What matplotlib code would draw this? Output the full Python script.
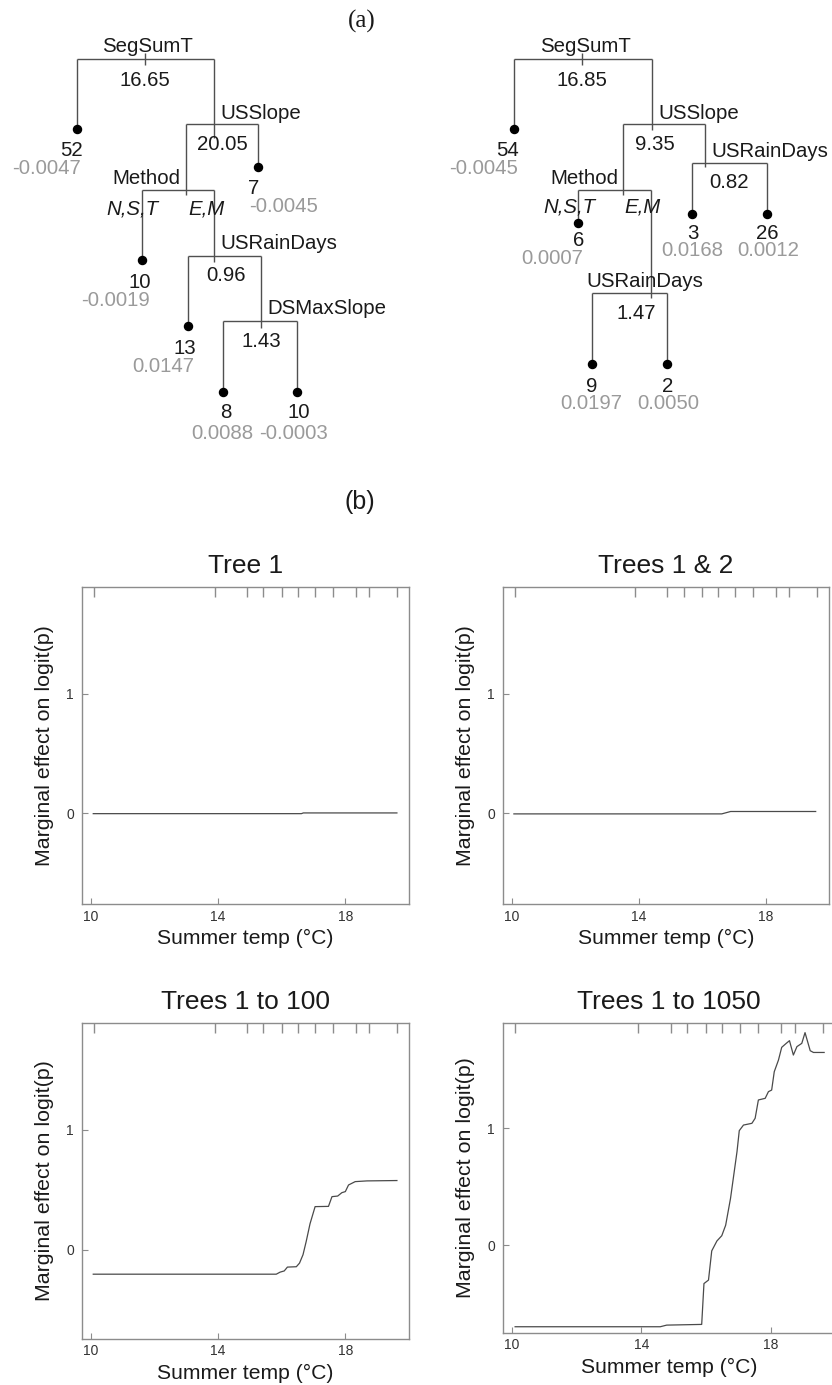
import matplotlib
matplotlib.use("Agg")
import matplotlib.pyplot as plt

# ---------------- data ----------------
# (a) regression trees
tree1_split_vars = ["SegSumT", "USSlope", "Method", "USRainDays", "DSMaxSlope"]
tree1_split_vals = ["16.65", "20.05", "", "0.96", "1.43"]
tree1_method_levels = ["N,S,T", "E,M"]
tree1_leaf_n = [52, 7, 10, 13, 8, 10]
tree1_leaf_pred = [-0.0047, -0.0045, -0.0019, 0.0147, 0.0088, -0.0003]

tree2_split_vars = ["SegSumT", "USSlope", "USRainDays", "Method", "USRainDays"]
tree2_split_vals = ["16.85", "9.35", "0.82", "", "1.47"]
tree2_method_levels = ["N,S,T", "E,M"]
tree2_leaf_n = [54, 3, 26, 6, 9, 2]
tree2_leaf_pred = [-0.0045, 0.0168, 0.0012, 0.0007, 0.0197, 0.0050]

# (b) partial dependence curves, summer temp (deg C) vs marginal effect
rug_deciles = [10.1, 13.9, 14.9, 15.42, 16.0, 16.5, 17.05, 17.6, 18.32, 18.74, 19.62]

tree1_x = [10.08, 16.62, 16.68, 19.62]
tree1_y = [-0.002, -0.002, 0.004, 0.004]

trees2_x = [10.07, 16.62, 16.9, 19.58]
trees2_y = [-0.004, -0.004, 0.016, 0.016]

trees100_x = [10.08, 15.83, 15.95, 16.08, 16.18, 16.46, 16.56, 16.67, 16.77, 16.89,
              17.05, 17.47, 17.58, 17.76, 17.89, 18.0, 18.1, 18.31, 18.68, 19.62]
trees100_y = [-0.202, -0.202, -0.185, -0.175, -0.143, -0.14, -0.11, -0.04, 0.07, 0.217,
              0.36, 0.362, 0.443, 0.448, 0.476, 0.485, 0.54, 0.568, 0.574, 0.577]

trees1050_x = [10.1, 14.58, 14.78, 15.86, 15.93, 16.07, 16.17, 16.33, 16.48, 16.6,
               16.75, 16.85, 16.95, 17.02, 17.15, 17.41, 17.51, 17.61, 17.82, 17.92,
               18.02, 18.1, 18.23, 18.33, 18.47, 18.57, 18.69, 18.8, 18.95, 19.05,
               19.21, 19.31, 19.64]
trees1050_y = [-0.70, -0.70, -0.686, -0.68, -0.33, -0.30, -0.05, 0.035, 0.08, 0.17,
               0.40, 0.60, 0.80, 0.98, 1.028, 1.043, 1.086, 1.243, 1.257, 1.314,
               1.328, 1.485, 1.585, 1.694, 1.728, 1.751, 1.628, 1.70, 1.728, 1.82,
               1.665, 1.65, 1.65]

panel_titles = ["Tree 1", "Trees 1 & 2", "Trees 1 to 100", "Trees 1 to 1050"]
panel_curves = [(tree1_x, tree1_y), (trees2_x, trees2_y),
                (trees100_x, trees100_y), (trees1050_x, trees1050_y)]
x_ticks = [10, 14, 18]
y_ticks = [0, 1]
x_label = "Summer temp (°C)"
y_label = "Marginal effect on logit(p)"

# ---------------- layout (pixels) ----------------
W, H = 832, 1385
FONT = ["Liberation Sans", "DejaVu Sans"]
plt.rcParams["font.family"] = FONT

fig = plt.figure(figsize=(W / 100, H / 100), dpi=100)
bg = fig.add_axes([0, 0, 1, 1])
bg.set_xlim(0, W)
bg.set_ylim(H, 0)
bg.axis("off")

LINE_C = "#505050"
TXT_C = "#1a1a1a"
GRAY_C = "#9a9a9a"
FS = 14.7

# node layout: (x, y, parent, ext_below) ; internal nodes first in split order, then leaves
tree1_internal = [(145.0, 59.3), (214.3, 124.0), (185.7, 190.0), (214.3, 255.7), (261.0, 320.7)]
tree1_children = [(("L", 0), ("I", 1)), (("I", 2), ("L", 1)), (("L", 2), ("I", 3)),
                  (("L", 3), ("I", 4)), (("L", 4), ("L", 5))]
tree1_leaves = [(77.3, 129.0), (257.7, 166.7), (141.7, 260.0), (187.7, 326.0),
                (223.3, 392.3), (297.0, 392.3)]
tree1_line_end = [65.0, 138.3, 195.0, 261.7, 327.7]
tree1_var_pos = [(147.7, 46.7), (261.0, 113.3), (146.7, 179.0), (279.3, 243.3), (326.7, 308.3)]
tree1_val_pos = [(145.0, 80.0), (222.7, 144.0), None, (225.7, 275.3), (261.7, 341.7)]
tree1_lvl_pos = [(132.7, 209.3), (206.7, 209.3)]
tree1_n_pos = [(71.0, 150.7), (253.3, 188.3), (139.3, 282.7), (185.0, 348.3),
               (226.0, 413.0), (298.3, 413.0)]
tree1_p_pos = [(46.7, 169.0), (283.3, 206.7), (115.0, 301.0), (163.3, 366.7),
               (222.0, 433.5), (294.0, 433.5)]

tree2_internal = [(582.3, 59.3), (651.7, 124.0), (705.3, 162.7), (623.3, 190.0), (651.0, 293.3)]
tree2_children = [(("L", 0), ("I", 1)), (("I", 3), ("I", 2)), (("L", 1), ("L", 2)),
                  (("L", 3), ("I", 4)), (("L", 4), ("L", 5))]
tree2_leaves = [(514.3, 129.0), (692.0, 214.3), (767.0, 214.3), (577.7, 222.7),
                (591.7, 364.0), (666.7, 364.0)]
tree2_line_end = [65.0, 130.0, 166.7, 195.0, 298.3]
tree2_var_pos = [(585.0, 46.7), (698.3, 113.3), (770.0, 151.7), (584.0, 179.0), (645.0, 281.7)]
tree2_val_pos = [(582.3, 80.0), (655.0, 144.0), (729.3, 182.7), None, (636.7, 313.3)]
tree2_lvl_pos = [(569.3, 206.7), (642.7, 206.7)]
tree2_n_pos = [(507.7, 150.7), (692.7, 233.3), (767.7, 233.3), (578.3, 240.0),
               (591.7, 386.0), (667.7, 386.0)]
tree2_p_pos = [(484.0, 169.0), (692.7, 250.7), (768.3, 250.7), (551.7, 258.3),
               (591.0, 403.3), (668.3, 403.3)]


def draw_tree(internal, children, leaves, line_end, var_pos, val_pos, lvl_pos,
              n_pos, p_pos, split_vars, split_vals, levels, leaf_n, leaf_pred):
    def coord(ref):
        kind, i = ref
        return internal[i] if kind == "I" else leaves[i]
    # root stub
    rx, ry = internal[0]
    bg.plot([rx, rx], [ry - 6, line_end[0]], color=LINE_C, lw=1.0, solid_capstyle="butt")
    for i, (px, py) in enumerate(internal):
        lch, rch = children[i]
        lx = coord(lch)[0]
        rxx = coord(rch)[0]
        bg.plot([lx, rxx], [py, py], color=LINE_C, lw=1.0, solid_capstyle="butt")
        for ch in (lch, rch):
            cx, cy = coord(ch)
            if ch[0] == "I":
                bg.plot([cx, cx], [py, line_end[ch[1]]], color=LINE_C, lw=1.0,
                        solid_capstyle="butt")
            else:
                bg.plot([cx, cx], [py, cy], color=LINE_C, lw=1.0, solid_capstyle="butt")
    for (lx, ly) in leaves:
        bg.plot(lx, ly, "o", color="black", ms=5.8, zorder=5)
    for i, name in enumerate(split_vars):
        bg.text(*var_pos[i], name, ha="center", va="center", fontsize=FS, color=TXT_C)
        if split_vals[i]:
            bg.text(*val_pos[i], split_vals[i], ha="center", va="center", fontsize=FS,
                    color=TXT_C)
    for j, lev in enumerate(levels):
        bg.text(*lvl_pos[j], lev, ha="center", va="center", fontsize=FS, color=TXT_C,
                style="italic")
    for k in range(len(leaf_n)):
        bg.text(*n_pos[k], str(leaf_n[k]), ha="center", va="center", fontsize=FS,
                color=TXT_C)
        bg.text(*p_pos[k], f"{leaf_pred[k]:.4f}", ha="center", va="center", fontsize=FS,
                color=GRAY_C)


draw_tree(tree1_internal, tree1_children, tree1_leaves, tree1_line_end, tree1_var_pos,
          tree1_val_pos, tree1_lvl_pos, tree1_n_pos, tree1_p_pos, tree1_split_vars,
          tree1_split_vals, tree1_method_levels, tree1_leaf_n, tree1_leaf_pred)
draw_tree(tree2_internal, tree2_children, tree2_leaves, tree2_line_end, tree2_var_pos,
          tree2_val_pos, tree2_lvl_pos, tree2_n_pos, tree2_p_pos, tree2_split_vars,
          tree2_split_vals, tree2_method_levels, tree2_leaf_n, tree2_leaf_pred)

bg.text(361.7, 21.7, "(a)", ha="center", va="center", fontsize=18,
        family=["Liberation Serif", "DejaVu Serif"], color=TXT_C)
bg.text(360.0, 501.7, "(b)", ha="center", va="center", fontsize=18,
        family=["Liberation Sans Narrow", "Liberation Sans", "DejaVu Sans"], color=TXT_C)

# panels: (left, top, right, bottom) in px, ylim
panel_rects = [(81.7, 587.0, 409.0, 904.0), (502.7, 587.0, 829.0, 904.0),
               (81.7, 1022.7, 409.0, 1338.5), (502.7, 1022.7, 835.8, 1332.7)]
panel_ylims = [(-0.757, 1.892), (-0.757, 1.892), (-0.737, 1.89), (-0.751, 1.905)]
XLIM = (9.717, 20.0)
FRAME_C = "#8c8c8c"

for i in range(4):
    l, t, r, b = panel_rects[i]
    ax = fig.add_axes([l / W, 1 - b / H, (r - l) / W, (b - t) / H])
    ax.set_xlim(*XLIM)
    ax.set_ylim(*panel_ylims[i])
    for sp in ax.spines.values():
        sp.set_color(FRAME_C)
        sp.set_linewidth(1.0)
    xs, ys = panel_curves[i]
    ax.plot(xs, ys, color="#4a4a4a", lw=0.9)
    ax.vlines(rug_deciles, 1 - 0.032, 1, transform=ax.get_xaxis_transform(),
              color=FRAME_C, lw=1.0)
    ax.set_xticks(x_ticks)
    ax.set_yticks(y_ticks)
    ax.tick_params(axis="both", direction="in", length=4.5, width=0.8, color=FRAME_C,
                   labelsize=10, labelcolor="#333333")
    ax.tick_params(axis="x", pad=4.0)
    ax.tick_params(axis="y", pad=5.5)
    ax.set_title(panel_titles[i], fontsize=19, color=TXT_C, pad=9.9)
    ax.set_xlabel(x_label, fontsize=15.2, color=TXT_C, labelpad=4)
    ax.set_ylabel(y_label, fontsize=15.4, color=TXT_C, labelpad=9)

fig.savefig("out.png", dpi=100)
